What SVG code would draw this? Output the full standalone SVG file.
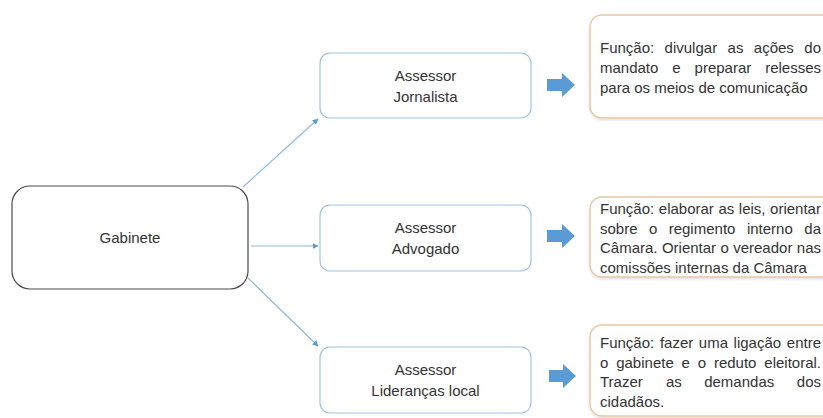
<svg xmlns="http://www.w3.org/2000/svg" width="823" height="418" viewBox="0 0 823 418">
  <defs>
    <marker id="ah" viewBox="0 0 10 10" refX="9" refY="5" markerWidth="6" markerHeight="6" orient="auto" markerUnits="userSpaceOnUse">
      <path d="M0,0 L10,5 L0,10 Z" fill="#5B9BD5"/>
    </marker>
    <filter id="sh" x="-5%" y="-5%" width="110%" height="120%">
      <feDropShadow dx="0" dy="1.5" stdDeviation="1.2" flood-color="#000" flood-opacity="0.12"/>
    </filter>
  </defs>
  <style>
    text { font-family: "Liberation Sans", Arial, sans-serif; fill: #333333; }
    .lbl { font-size: 15px; text-anchor: middle; }
    .fn { font-size: 15px; }
    .main { fill: #ffffff; stroke: #4a4a4a; stroke-width: 1.2; }
    .ass { fill: #ffffff; stroke: #9DC3E6; stroke-width: 1.2; }
    .desc { fill: #ffffff; stroke: #E9C7A3; stroke-width: 1.4; filter: url(#sh); }
    .conn { stroke: #8FB8DE; stroke-width: 1.2; fill: none; marker-end: url(#ah); }
    .blk { fill: #5B9BD5; }
  </style>
  <rect width="823" height="418" fill="#ffffff"/>

  <g id="connectors">
    <line class="conn" x1="243" y1="187" x2="318" y2="119"/>
    <line class="conn" x1="251" y1="246" x2="318" y2="246"/>
    <line class="conn" x1="248" y1="278" x2="318" y2="346"/>
    <path class="blk" d="M547,79 H562 V73 L575,85 L562,97 V91 H547 Z"/>
    <path class="blk" d="M547,230 H562 V224 L575,236 L562,248 V242 H547 Z"/>
    <path class="blk" d="M549,370 H563 V364 L576,376 L563,388 V382 H549 Z"/>
  </g>

  <g id="gabinete">
    <rect class="main" x="12" y="186" width="236" height="103" rx="18"/>
    <text class="lbl" x="130" y="243">Gabinete</text>
  </g>

  <g id="jornalista">
    <rect class="ass" x="320" y="53" width="211" height="65" rx="10"/>
    <text class="lbl" x="425.5" y="81">Assessor</text>
    <text class="lbl" x="425.5" y="102">Jornalista</text>
  </g>

  <g id="advogado">
    <rect class="ass" x="320" y="205" width="211" height="66" rx="10"/>
    <text class="lbl" x="425.5" y="233">Assessor</text>
    <text class="lbl" x="425.5" y="254">Advogado</text>
  </g>

  <g id="liderancas">
    <rect class="ass" x="320" y="347" width="211" height="66" rx="10"/>
    <text class="lbl" x="425.5" y="375">Assessor</text>
    <text class="lbl" x="425.5" y="396">Lideranças local</text>
  </g>

  <g id="funcao-jornalista">
    <rect class="desc" x="590" y="15" width="260" height="103" rx="12"/>
    <text class="fn" y="53"><tspan x="600">Função:</tspan><tspan x="664.6">divulgar</tspan><tspan x="727.6">as</tspan><tspan x="753.8">ações</tspan><tspan x="804.3">do</tspan></text>
    <text class="fn" y="73"><tspan x="600">mandato</tspan><tspan x="672.3">e</tspan><tspan x="694.6">preparar</tspan><tspan x="765.2">relesses</tspan></text>
    <text class="fn" x="600" y="93">para os meios de comunicação</text>
  </g>

  <g id="funcao-advogado">
    <rect class="desc" x="590" y="197" width="260" height="80" rx="12"/>
    <text class="fn" y="214"><tspan x="600">Função:</tspan><tspan x="658.8">elaborar</tspan><tspan x="718.4">as</tspan><tspan x="738.8">leis,</tspan><tspan x="770.1">orientar</tspan></text>
    <text class="fn" y="233.5"><tspan x="600">sobre</tspan><tspan x="649">o</tspan><tspan x="668.7">regimento</tspan><tspan x="746.9">interno</tspan><tspan x="804.3">da</tspan></text>
    <text class="fn" y="253"><tspan x="600">Câmara.</tspan><tspan x="661.9">Orientar</tspan><tspan x="720.5">o</tspan><tspan x="733.2">vereador</tspan><tspan x="796.8">nas</tspan></text>
    <text class="fn" x="600" y="272.5">comissões internas da Câmara</text>
  </g>

  <g id="funcao-liderancas">
    <rect class="desc" x="590" y="325" width="260" height="91" rx="12"/>
    <text class="fn" y="348"><tspan x="600">Função:</tspan><tspan x="659.9">fazer</tspan><tspan x="698.8">uma</tspan><tspan x="733.6">ligação</tspan><tspan x="786.8">entre</tspan></text>
    <text class="fn" y="367.5"><tspan x="600">o</tspan><tspan x="616.2">gabinete</tspan><tspan x="681.6">e</tspan><tspan x="697.7">o</tspan><tspan x="713.9">reduto</tspan><tspan x="764.3">eleitoral.</tspan></text>
    <text class="fn" y="387"><tspan x="600">Trazer</tspan><tspan x="665.9">as</tspan><tspan x="704.2">demandas</tspan><tspan x="796.8">dos</tspan></text>
    <text class="fn" x="600" y="406.5">cidadãos.</text>
  </g>
</svg>
